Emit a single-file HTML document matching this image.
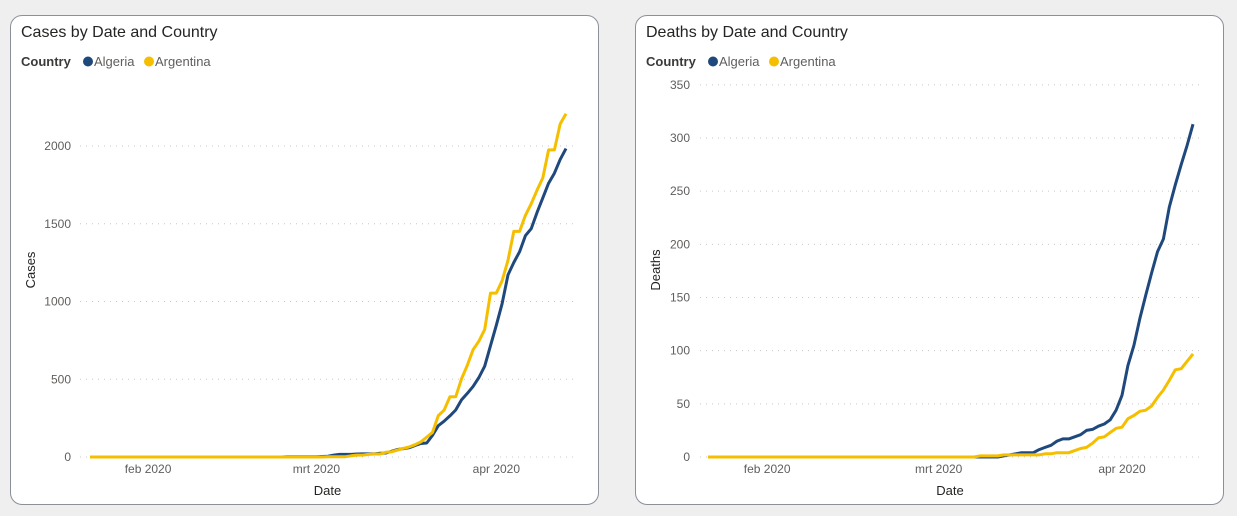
<!DOCTYPE html>
<html><head><meta charset="utf-8">
<style>
body{margin:0;width:1237px;height:516px;background:#efefef;font-family:"Liberation Sans",sans-serif;overflow:hidden;position:relative}
.panel{position:absolute;top:15px;width:589px;height:490px;background:#fff;border:1px solid #8b9099;border-radius:12px;box-sizing:border-box}
svg{position:absolute;left:0;top:0}
</style></head><body>
<div class="panel" style="left:10px"></div>
<div class="panel" style="left:635px"></div>
<svg id="s" width="1237" height="516"></svg>
<script>
const algeriaCases=[0,0,0,0,0,0,0,0,0,0,0,0,0,0,0,0,0,0,0,0,0,0,0,0,0,0,0,0,0,0,0,0,0,0,1,1,1,1,1,1,3,5,12,17,17,17,19,20,20,20,24,26,37,48,54,60,74,87,90,139,201,230,264,302,367,409,454,511,584,716,847,986,1171,1251,1320,1423,1468,1572,1666,1761,1825,1914,1983];
const argentinaCases=[0,0,0,0,0,0,0,0,0,0,0,0,0,0,0,0,0,0,0,0,0,0,0,0,0,0,0,0,0,0,0,0,0,0,0,0,0,0,0,0,0,1,1,1,2,8,12,12,17,19,19,31,34,45,56,65,79,97,128,158,266,301,387,387,502,589,690,745,820,1054,1054,1133,1265,1451,1451,1554,1628,1715,1795,1975,1975,2142,2208];
const algeriaDeaths=[0,0,0,0,0,0,0,0,0,0,0,0,0,0,0,0,0,0,0,0,0,0,0,0,0,0,0,0,0,0,0,0,0,0,0,0,0,0,0,0,0,0,0,0,0,0,0,0,0,0,1,2,3,4,4,4,7,9,11,15,17,17,19,21,25,26,29,31,35,44,58,86,105,130,152,173,193,205,235,256,275,293,313];
const argentinaDeaths=[0,0,0,0,0,0,0,0,0,0,0,0,0,0,0,0,0,0,0,0,0,0,0,0,0,0,0,0,0,0,0,0,0,0,0,0,0,0,0,0,0,0,0,0,0,0,1,1,1,1,2,2,2,2,2,2,2,3,3,4,4,4,6,8,9,13,18,19,23,27,28,36,39,43,44,48,56,63,72,82,83,90,97];
const monthLabels=["feb 2020","mrt 2020","apr 2020"];
const monthIdx=[10,39,70];
const casesTicks=[0,500,1000,1500,2000];
const deathsTicks=[0,50,100,150,200,250,300,350];

const NS="http://www.w3.org/2000/svg";
const svg=document.getElementById('s');
function el(t,a,txt){const e=document.createElementNS(NS,t);for(const k in a)e.setAttribute(k,a[k]);if(txt!==undefined)e.textContent=txt;svg.appendChild(e);return e;}

function chart(o){
  const n=o.a.length;
  const xs=i=>o.x0+(o.x1-o.x0)*i/(n-1);
  const ys=v=>o.y0-(o.y0-o.yTop)*v/o.yMaxTick;
  let t=el('text',{x:o.left+11,y:37,'font-size':16,fill:'#252423'},o.title);
  
  
  t=el('text',{x:o.left+11,y:66,'font-size':13,'font-weight':'bold',fill:'#3b3a39'},'Country');
  
  
  [['Algeria','#1f497d',o.left+73],['Argentina','#f5bf00',o.left+134]].forEach(([nm,c,lx])=>{
    let g=el('circle',{cx:lx+5,cy:61.5,r:5,fill:c});
    
    
    let tt=el('text',{x:lx+11,y:66,'font-size':13,fill:'#605e5c'},nm);
    
    
  });
  o.ticks.forEach(v=>{
    const y=ys(v);
    let g=el('line',{x1:o.gx0,x2:o.gx1,y1:y,y2:y,stroke:'#c8c8c8','stroke-dasharray':'1 5'});
    
    
    let tl=el('text',{x:o.tx,y:y+4,'font-size':12,fill:'#605e5c','text-anchor':'end'},String(v));
    
    
  });
  monthLabels.forEach((m,i)=>{
    let tl=el('text',{x:xs(monthIdx[i]),y:473,'font-size':12,fill:'#605e5c','text-anchor':'middle'},m);
    
    
  });
  let ax=el('text',{x:(o.gx0+o.gx1)/2,y:495,'font-size':13,fill:'#252423','text-anchor':'middle'},'Date');
  
  
  let ay=el('text',{x:0,y:0,'font-size':13,fill:'#252423','text-anchor':'middle',transform:`translate(${o.left+25},270) rotate(-90)`},o.yTitle);
  
  
  [[o.a,'#1f497d','algeria'],[o.b,'#f5bf00','argentina']].forEach(([arr,c,nm])=>{
    const pts=arr.map((v,i)=>xs(i).toFixed(1)+','+ys(v).toFixed(1)).join(' ');
    let p=el('polyline',{points:pts,fill:'none',stroke:c,'stroke-width':3,'stroke-linejoin':'round'});
    
    
  });
}
chart({key:'cases',title:'Cases by Date and Country',yTitle:'Cases',left:10,a:algeriaCases,b:argentinaCases,ticks:casesTicks,
  x0:90,x1:566,y0:457,yTop:146,yMaxTick:2000,gx0:80,gx1:575,tx:71});
chart({key:'deaths',title:'Deaths by Date and Country',yTitle:'Deaths',left:635,a:algeriaDeaths,b:argentinaDeaths,ticks:deathsTicks,
  x0:708,x1:1193,y0:457,yTop:138,yMaxTick:300,gx0:700,gx1:1200,tx:690});
</script>
</body></html>
